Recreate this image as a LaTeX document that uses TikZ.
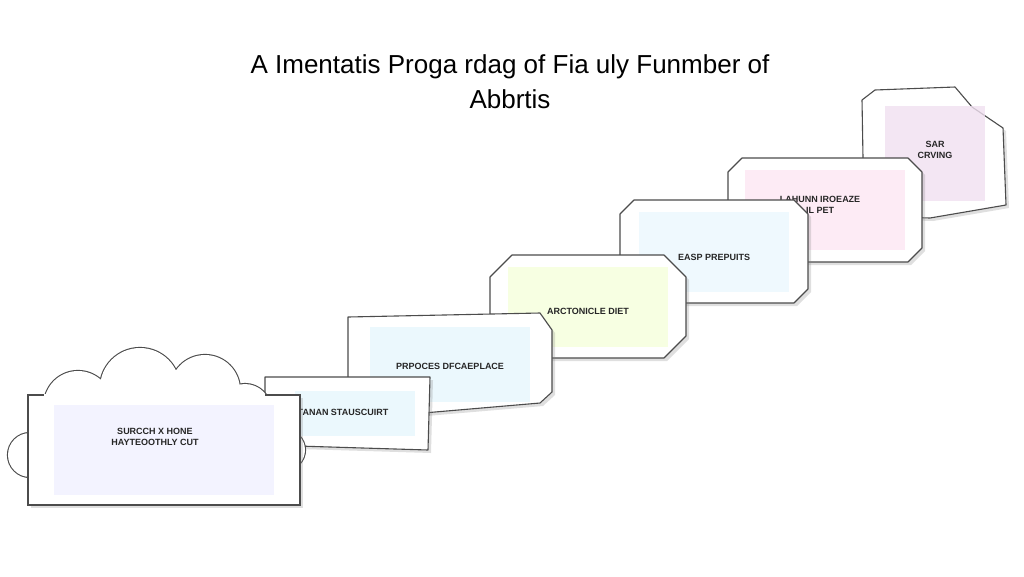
\documentclass[tikz,border=0pt]{standalone}
\usepackage{fontspec}
\setmainfont{Liberation Sans}
\setsansfont{Liberation Sans}
\usetikzlibrary{shadows}
\newcommand\chamf[5]{% x1 y1 x2 y2 c
  (#1+#5,#2)--(#3-#5,#2)--(#3,#2+#5)--(#3,#4-#5)--(#3-#5,#4)--(#1+#5,#4)--(#1,#4-#5)--(#1,#2+#5)--cycle}
\begin{document}
\begin{tikzpicture}[x=1pt,y=-1pt,
  card/.style={draw=black!70,line width=1.1pt,fill=white,line join=round,
    drop shadow={shadow xshift=3pt,shadow yshift=-3pt,opacity=.25}},
  tint/.style={fill=#1,draw=none,opacity=.8,inner sep=0pt},
  lbl/.style={font=\sffamily\bfseries\fontsize{9}{11}\selectfont,align=center,text=black!85}]
\useasboundingbox (0,0) rectangle (1024,576);
\fill[white] (0,0) rectangle (1024,576);
\node[font=\sffamily\fontsize{26}{31}\selectfont,align=center] (title) at (510,82) {A Imentatis Proga rdag of Fia uly Funmber of\\[4pt]Abbrtis};
% cards, back to front
\path[card] (862,100)--(875,90)--(955,87)--(972,107)--(1003,128)--(1006,205)--(930,218)--(864,216)--cycle;
\node[tint=violet!12,minimum width=100pt,minimum height=95pt] (t6) at (935,153) {};
\node[lbl] (l6) at (935,150) {SAR\\CRVING};
\path[card] \chamf{728}{158}{922}{262}{14};
\node[tint=magenta!10,minimum width=160pt,minimum height=80pt] (t5) at (825,210) {};
\node[lbl] (l5) at (820,205) {LAHUNN IROEAZE\\IL PET};
\path[card] \chamf{620}{200}{808}{303}{14};
\node[tint=cyan!8,minimum width=150pt,minimum height=80pt] (t4) at (714,252) {};
\node[lbl] (l4) at (714,257) {EASP PREPUITS};
\path[card] \chamf{490}{255}{686}{358}{22};
\node[tint=lime!14,minimum width=160pt,minimum height=80pt] (t3) at (588,307) {};
\node[lbl] (l3) at (588,311) {ARCTONICLE DIET};
\path[card] (348,317)--(540,313)--(552,330)--(552,392)--(540,403)--(400,415)--(348,415)--cycle;
\node[tint=cyan!10,minimum width=160pt,minimum height=75pt] (t2) at (450,364) {};
\node[lbl] (l2) at (450,366) {PRPOCES DFCAEPLACE};
\path[card] (265,377)--(430,377)--(428,450)--(265,445)--cycle;
\node[tint=cyan!10,minimum width=120pt,minimum height=45pt] (t1) at (355,413) {};
\node[lbl] (l1) at (343,412) {TANAN STAUSCUIRT};
% cloud
\def\bumps{(30,455) circle (22) (285,450) circle (20) (78,405) circle (34) (140,388) circle (40) (205,390) circle (35) (245,410) circle (26)}
\draw[black!70,line width=2.2pt] \bumps;
\fill[white] \bumps;
\node[draw=black!70,line width=1.1pt,fill=white,minimum width=272pt,minimum height=110pt,inner sep=0pt,
  drop shadow={shadow xshift=3pt,shadow yshift=-3pt,opacity=.25}] (c0) at (164,450) {};
\fill[white] (44,394) rectangle (265,397);
\node[tint=blue!6,minimum width=220pt,minimum height=90pt] (t0) at (164,450) {};
\node[lbl] (l0) at (155,437) {SURCCH X HONE\\HAYTEOOTHLY CUT};
\end{tikzpicture}
\end{document}
